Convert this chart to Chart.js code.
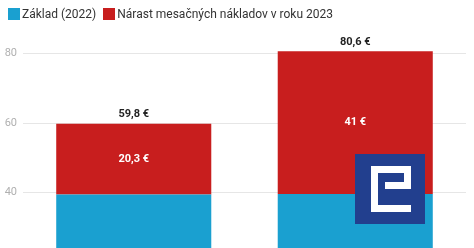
<!DOCTYPE html>
<html>
<head>
<meta charset="utf-8">
<script src="https://cdn.jsdelivr.net/npm/chart.js@4/dist/chart.umd.min.js"></script>
<style>
  html, body { margin: 0; padding: 0; background: #fff; overflow: hidden; }
  #wrap { position: relative; width: 474px; height: 248px; }
  #legend { position: absolute; left: 8px; top: 8px; display: flex; align-items: center;
            font-family: Roboto, "Noto Sans", sans-serif; font-size: 12px; color: #333; line-height: 12px; }
  .item { display: flex; align-items: center; margin-right: 7px; }
  .box { width: 12px; height: 12px; margin-right: 2px; }
  canvas { position: absolute; left: 0; top: 0; }
</style>
</head>
<body>
<div id="wrap">
  <canvas id="c" width="474" height="248"></canvas>
  <div id="legend"></div>
</div>
<script>
const categories = ['2022', '2023'];
const seriesNames = ['Základ (2022)', 'Nárast mesačných nákladov v roku 2023'];
const baseValues = [39.5, 39.6];
const increaseValues = [20.3, 41];
const yTicks = [40, 60, 80];

const colors = ['#1aa0d0', '#c81e1e'];

function fmt(v) {
  return String(Math.round(v * 10) / 10).replace('.', ',') + ' €';
}

// HTML legend
const legendEl = document.getElementById('legend');
seriesNames.forEach((name, i) => {
  const it = document.createElement('div');
  it.className = 'item';
  const b = document.createElement('div');
  b.className = 'box';
  b.style.background = colors[i];
  const t = document.createElement('span');
  t.textContent = name;
  it.appendChild(b); it.appendChild(t);
  legendEl.appendChild(it);
});

const labelPlugin = {
  id: 'valueLabels',
  afterDatasetsDraw(chart) {
    const ctx = chart.ctx;
    const y = chart.scales.y;
    ctx.save();
    ctx.font = 'bold 11px Roboto, "Noto Sans", sans-serif';
    ctx.textAlign = 'center';
    ctx.textBaseline = 'middle';
    categories.forEach((cat, i) => {
      const meta0 = chart.getDatasetMeta(0);
      const x = meta0.data[i].x;
      let start = 0;
      chart.data.datasets.forEach((ds) => {
        const v = ds.data[i];
        ctx.fillStyle = '#ffffff';
        ctx.fillText(fmt(v), x, y.getPixelForValue(start + v / 2));
        start += v;
      });
      ctx.fillStyle = '#222222';
      ctx.fillText(fmt(start), x, y.getPixelForValue(start) - 9.5);
    });
    ctx.restore();
  },
  afterDraw(chart) {
    // watermark logo
    const ctx = chart.ctx;
    ctx.save();
    ctx.fillStyle = '#223f8e';
    ctx.fillRect(355, 154, 70, 70);
    ctx.fillStyle = '#ffffff';
    ctx.fillRect(371, 166, 7, 46);   // left bar
    ctx.fillRect(371, 166, 40, 7);   // top bar
    ctx.fillRect(371, 205, 40, 7);   // bottom bar
    ctx.fillRect(404, 166, 7, 23);   // right upper
    ctx.fillRect(385, 182, 26, 7);   // middle bar
    ctx.restore();
  }
};

new Chart(document.getElementById('c'), {
  type: 'bar',
  data: {
    labels: categories,
    datasets: [
      { label: seriesNames[0], data: baseValues, backgroundColor: colors[0] },
      { label: seriesNames[1], data: increaseValues, backgroundColor: colors[1] }
    ]
  },
  options: {
    responsive: false,
    animation: false,
    devicePixelRatio: 1,
    layout: { padding: { top: 28, right: 8, bottom: 0, left: 0 } },
    datasets: { bar: { barPercentage: 0.7, categoryPercentage: 1.0 } },
    plugins: { legend: { display: false }, tooltip: { enabled: false } },
    scales: {
      x: { stacked: true, display: false },
      y: {
        stacked: true,
        min: 24.1,
        max: 87.3,
        border: { display: false },
        grid: { color: '#e6e6e6', drawTicks: false },
        ticks: { padding: 6, color: '#b0b0b0', font: { family: 'Roboto, "Noto Sans", sans-serif', size: 11 } },
        afterBuildTicks(axis) { axis.ticks = yTicks.map(v => ({ value: v })); },
        afterFit(axis) { axis.width = 23; axis.paddingTop = 0; axis.paddingBottom = 0; }
      }
    }
  },
  plugins: [labelPlugin]
});
</script>
</body>
</html>
